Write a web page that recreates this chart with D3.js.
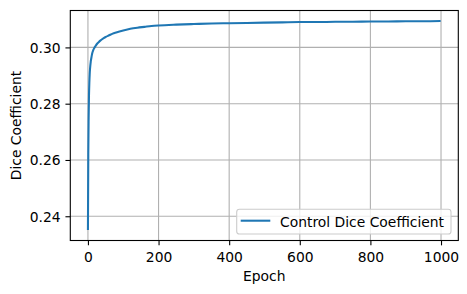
<!DOCTYPE html>
<html><head><meta charset="utf-8">
<script src="https://cdn.jsdelivr.net/npm/d3@7"></script>
<style>body{margin:0;background:#fff}svg{display:block;font-family:"DejaVu Sans",sans-serif}</style>
</head><body><svg id="c" width="467" height="294"></svg>
<script>
const epochs = [0,1,2,3,4,5,6,8,10,12,15,18,22,26,30,35,40,50,60,70,80,100,120,140,160,180,200,250,300,350,400,450,500,550,600,650,700,750,800,850,900,950,999];
const dice = [0.2351,0.2620,0.2750,0.2830,0.2875,0.2905,0.2925,0.2950,0.2965,0.2978,0.2990,0.2998,0.3006,0.3013,0.3018,0.3024,0.3029,0.3037,0.3043,0.3049,0.3053,0.3060,0.3066,0.3070,0.3073,0.3076,0.3078,0.3081,0.3083,0.3085,0.3086,0.3087,0.3088,0.3089,0.3090,0.3090,0.3091,0.3091,0.3092,0.3092,0.3093,0.3093,0.3094];
const xTicks = [0,200,400,600,800,1000];
const yTicks = [0.24,0.26,0.28,0.30];
const seriesName = "Control Dice Coefficient";
const xLabel = "Epoch", yLabel = "Dice Coefficient";

const FS=13.89;
const L=70.3,R=458.3,T=10.5,B=240.5;
const svg=d3.select("#c");
const pad=(a,b)=>{const d=(b-a)*0.05;return [a-d,b+d];};
const x=d3.scaleLinear().domain(pad(d3.min(epochs),d3.max(epochs))).range([L,R]);
const y=d3.scaleLinear().domain(pad(d3.min(dice),d3.max(dice))).range([B,T]);

const g=svg.append("g");
// grid
g.selectAll(".gx").data(xTicks).join("line").attr("x1",d=>x(d)).attr("x2",d=>x(d)).attr("y1",T).attr("y2",B).attr("stroke","#b0b0b0").attr("stroke-width",1.1);
g.selectAll(".gy").data(yTicks).join("line").attr("y1",d=>y(d)).attr("y2",d=>y(d)).attr("x1",L).attr("x2",R).attr("stroke","#b0b0b0").attr("stroke-width",1.1);

// line
const line=d3.line().x((d,i)=>x(epochs[i])).y(d=>y(d)).curve(d3.curveMonotoneX);
g.append("path").attr("d",line(dice)).attr("fill","none").attr("stroke","#1f77b4").attr("stroke-width",2.08);

// axes
const xa=g.append("g").attr("transform",`translate(0,${B})`).call(d3.axisBottom(x).tickValues(xTicks).tickFormat(d3.format("d")).tickSizeInner(4.86).tickSizeOuter(0).tickPadding(4.86));
const ya=g.append("g").attr("transform",`translate(${L},0)`).call(d3.axisLeft(y).tickValues(yTicks).tickFormat(d3.format(".2f")).tickSizeInner(4.86).tickSizeOuter(0).tickPadding(4.86));
[xa,ya].forEach(a=>{a.select(".domain").remove();a.selectAll("line").attr("stroke","#000").attr("stroke-width",1.1);a.selectAll("text").attr("font-size",FS).attr("fill","#000").attr("font-family","DejaVu Sans");});
xa.selectAll("text").attr("y",21.2).attr("dy",0);
ya.selectAll("text").attr("dy","0.36em");
// spines
g.append("rect").attr("x",L).attr("y",T).attr("width",R-L).attr("height",B-T).attr("fill","none").attr("stroke","#000").attr("stroke-width",1.1);

// labels
svg.append("text").attr("x",(L+R)/2).attr("y",280.5).attr("text-anchor","middle").attr("font-size",FS).text(xLabel);
svg.append("text").attr("transform",`translate(21,${(T+B)/2}) rotate(-90)`).attr("text-anchor","middle").attr("font-size",FS).text(yLabel);

// legend
const lg=svg.append("g");
lg.append("rect").attr("x",236.7).attr("y",209.3).attr("width",214.3).attr("height",24.7).attr("rx",2.8).attr("fill","#fff").attr("fill-opacity",0.8).attr("stroke","#cccccc").attr("stroke-width",1.1);
lg.append("line").attr("x1",240.7).attr("x2",270.3).attr("y1",220.7).attr("y2",220.7).attr("stroke","#1f77b4").attr("stroke-width",2.08);
lg.append("text").attr("x",280).attr("y",226.5).attr("font-size",FS).text(seriesName);
</script></body></html>
